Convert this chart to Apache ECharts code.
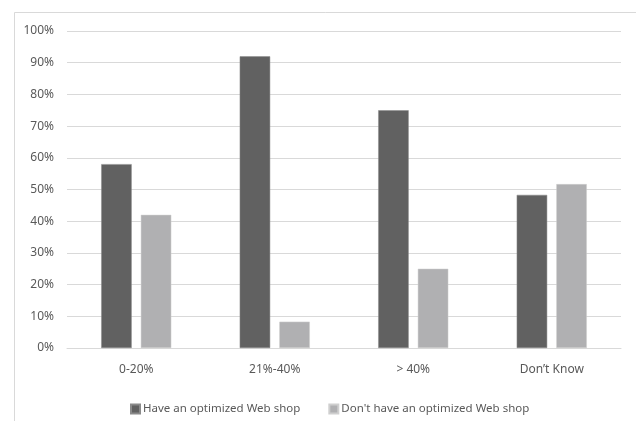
<!DOCTYPE html>
<html>
<head>
<meta charset="utf-8">
<script src="https://cdn.jsdelivr.net/npm/echarts@6/dist/echarts.min.js"></script>
<style>html,body{margin:0;padding:0;background:#fff}#c{width:636px;height:421px}</style>
</head>
<body>
<div id="c"></div>
<script>
const categories = ['0-20%', '21%-40%', '> 40%', 'Don\u2019t Know'];
const haveOptimized = [58, 92, 75, 48.3];
const dontHaveOptimized = [42, 8.3, 25, 51.7];
const seriesNames = ['Have an optimized Web shop', "Don't have an optimized Web shop"];

const chart = echarts.init(document.getElementById('c'), null, {renderer: 'canvas'});
const font = 'Noto Sans';
chart.setOption({
  animation: false,
  backgroundColor: '#fff',
  graphic: [{
    type: 'rect',
    shape: {x: 14.5, y: 12.5, width: 700, height: 500},
    style: {fill: 'none', stroke: '#d9d9d9', lineWidth: 1},
    silent: true
  }],
  grid: {left: 67, right: 15, top: 31, bottom: 73, containLabel: false},
  legend: {
    top: 398,
    left: 125,
    itemWidth: 9, itemHeight: 9, itemGap: 28,
    icon: 'rect',
    textStyle: {color: '#595959', fontSize: 11.5, fontFamily: font, padding: [0, 0, 0, -2]},
    data: seriesNames
  },
  xAxis: {
    type: 'category',
    data: categories,
    axisLine: {lineStyle: {color: '#d9d9d9', width: 1}},
    axisTick: {show: false},
    axisLabel: {color: '#595959', fontSize: 12, fontFamily: font, margin: 16}
  },
  yAxis: {
    type: 'value',
    min: 0, max: 100, interval: 10,
    axisLine: {show: false},
    axisTick: {show: false},
    splitLine: {lineStyle: {color: '#d9d9d9', width: 1}},
    axisLabel: {color: '#595959', fontSize: 12, fontFamily: font, margin: 13, formatter: '{value}%'}
  },
  series: [{
    name: seriesNames[0],
    type: 'bar',
    data: haveOptimized,
    barWidth: '22%',
    barGap: '30%',
    itemStyle: {color: '#616161', borderColor: '#8a8a8a', borderWidth: 0.5}
  }, {
    name: seriesNames[1],
    type: 'bar',
    data: dontHaveOptimized,
    barWidth: '22%',
    itemStyle: {color: '#b0b0b2', borderColor: '#cfcfcf', borderWidth: 0.5}
  }]
});
</script>
</body>
</html>
